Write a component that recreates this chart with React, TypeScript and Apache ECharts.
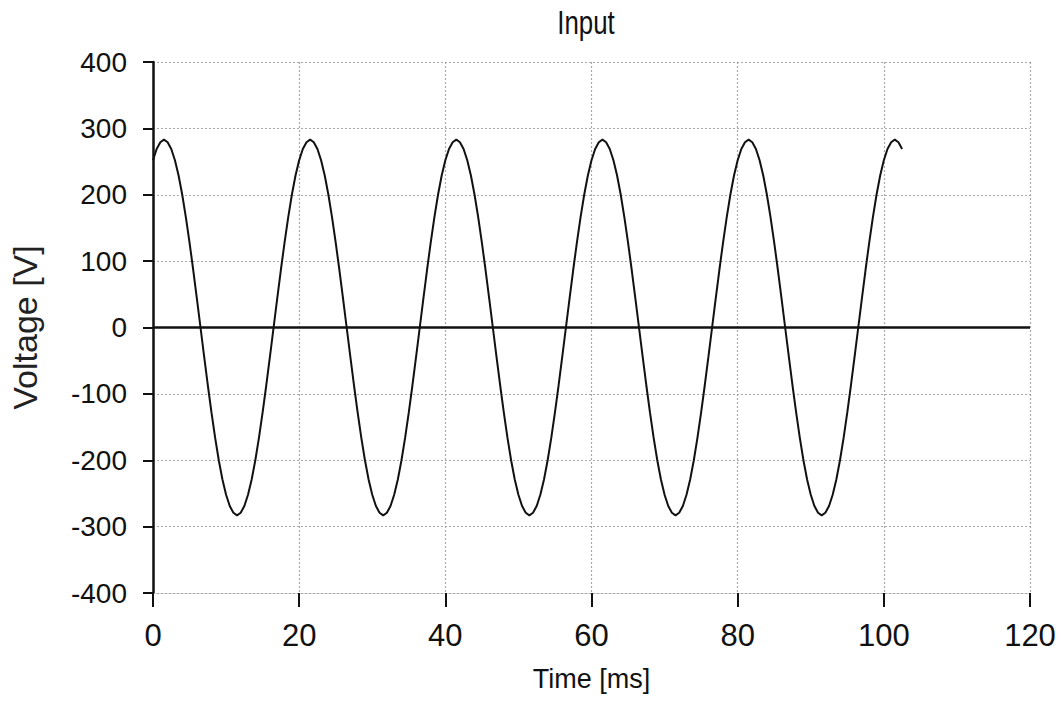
import React, { useEffect, useRef } from "react";
import * as echarts from "echarts";

const TITLE = "Input";
const X_NAME = "Time [ms]";
const Y_NAME = "Voltage [V]";
const SAMPLE_STEP_MS = 0.5;
const X_TICKS = [0, 20, 40, 60, 80, 100, 120];
const Y_TICKS = [-400, -300, -200, -100, 0, 100, 200, 300, 400];

// Voltage samples, one every 0.5 ms starting at t = 0
const voltage = [
  252, 269, 279, 283, 279, 269, 252, 229, 200, 166, 128, 87, 44, 0, -44, -87, -128, -166, -200, -229,
  -252, -269, -279, -283, -279, -269, -252, -229, -200, -166, -128, -87, -44, 0, 44, 87, 128, 166, 200, 229,
  252, 269, 279, 283, 279, 269, 252, 229, 200, 166, 128, 87, 44, 0, -44, -87, -128, -166, -200, -229,
  -252, -269, -279, -283, -279, -269, -252, -229, -200, -166, -128, -87, -44, 0, 44, 87, 128, 166, 200, 229,
  252, 269, 279, 283, 279, 269, 252, 229, 200, 166, 128, 87, 44, 0, -44, -87, -128, -166, -200, -229,
  -252, -269, -279, -283, -279, -269, -252, -229, -200, -166, -128, -87, -44, 0, 44, 87, 128, 166, 200, 229,
  252, 269, 279, 283, 279, 269, 252, 229, 200, 166, 128, 87, 44, 0, -44, -87, -128, -166, -200, -229,
  -252, -269, -279, -283, -279, -269, -252, -229, -200, -166, -128, -87, -44, 0, 44, 87, 128, 166, 200, 229,
  252, 269, 279, 283, 279, 269, 252, 229, 200, 166, 128, 87, 44, 0, -44, -87, -128, -166, -200, -229,
  -252, -269, -279, -283, -279, -269, -252, -229, -200, -166, -128, -87, -44, 0, 44, 87, 128, 166, 200, 229,
  252, 269, 279, 283, 279, 269,
];

const FONT = "'Liberation Sans', Arial, sans-serif";

export default function App() {
  const ref = useRef<HTMLDivElement>(null);
  useEffect(() => {
    if (!ref.current) return;
    const chart = echarts.init(ref.current, undefined, { renderer: "svg" });
    const data = voltage.map((v, i) => [i * SAMPLE_STEP_MS, v]);
    chart.setOption({
      animation: false,
      backgroundColor: "#ffffff",
      graphic: [
        {
          type: "text",
          x: 586,
          y: 5,
          scaleX: 0.76,
          style: {
            text: TITLE,
            font: `normal 34px ${FONT}`,
            fill: "#111",
            align: "center",
            verticalAlign: "top",
          },
        },
      ],
      grid: { left: 147, right: 31, top: 62, bottom: 110, containLabel: false },
      xAxis: {
        type: "value",
        min: X_TICKS[0],
        max: X_TICKS[X_TICKS.length - 1],
        interval: 20,
        name: X_NAME,
        nameLocation: "middle",
        nameGap: 72,
        nameTextStyle: { fontFamily: FONT, fontSize: 27, color: "#111" },
        axisLine: { show: true, onZero: false, lineStyle: { color: "#a8a8a8", width: 1.2, type: [2, 2] } },
        axisTick: { show: true, length: 14, lineStyle: { color: "#111", width: 2 } },
        axisLabel: { margin: 27, fontFamily: FONT, fontSize: 31, color: "#111" },
        splitLine: { show: true, lineStyle: { color: "#a8a8a8", width: 1.2, type: [2, 2] } },
      },
      yAxis: {
        type: "value",
        min: Y_TICKS[0],
        max: Y_TICKS[Y_TICKS.length - 1],
        interval: 100,
        name: Y_NAME,
        nameLocation: "middle",
        nameGap: 111,
        nameTextStyle: { fontFamily: FONT, fontSize: 34, color: "#222" },
        axisLine: { show: true, onZero: false, lineStyle: { color: "#111", width: 2.5 } },
        axisTick: { show: true, length: 10, lineStyle: { color: "#111", width: 2 } },
        axisLabel: { margin: 26, fontFamily: FONT, fontSize: 28, color: "#111" },
        splitLine: { show: true, lineStyle: { color: "#a8a8a8", width: 1.2, type: [2, 2] } },
      },
      series: [
        {
          type: "line",
          data,
          symbol: "none",
          lineStyle: { color: "#111", width: 2 },
          markLine: {
            silent: true,
            symbol: "none",
            label: { show: false },
            lineStyle: { color: "#111", width: 2.5, type: "solid" },
            data: [{ yAxis: 0 }],
          },
        },
      ],
    });
    return () => chart.dispose();
  }, []);
  return (
    <div
      ref={ref}
      style={{ position: "absolute", left: 0, top: 0, width: 1061, height: 703 }}
    />
  );
}
